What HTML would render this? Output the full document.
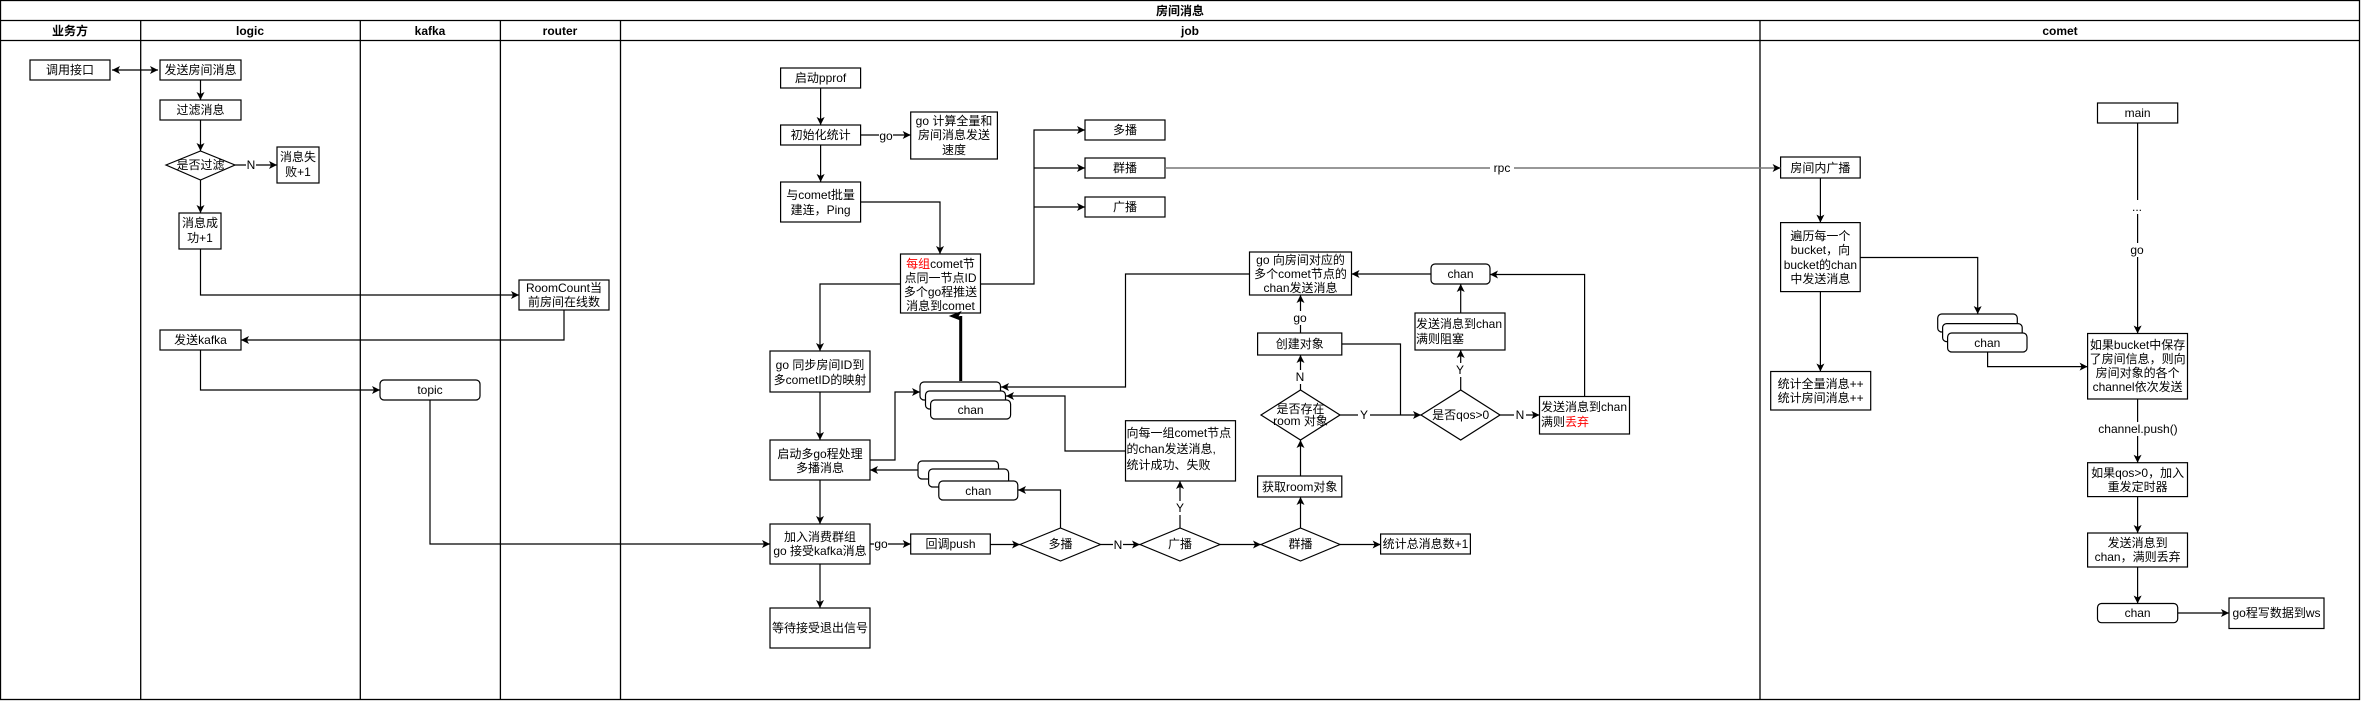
<!DOCTYPE html>
<html><head><meta charset="utf-8"><style>
html,body{margin:0;padding:0;background:#fff}
svg{display:block}
text{font-family:"Liberation Sans","Noto Sans CJK SC",sans-serif;font-size:12px;fill:#000}
.h{font-weight:bold}
</style></head><body>
<svg width="2361" height="701" viewBox="0 0 2361 701" xmlns="http://www.w3.org/2000/svg">
<defs>
<marker id="a" markerWidth="10" markerHeight="10" refX="8" refY="4" orient="auto" markerUnits="userSpaceOnUse">
<path d="M0,0 L8,4 L0,8 L2,4 z" fill="#000"/></marker>
<marker id="as" markerWidth="10" markerHeight="10" refX="0" refY="4" orient="auto" markerUnits="userSpaceOnUse">
<path d="M8,0 L0,4 L8,8 L6,4 z" fill="#000"/></marker>
<marker id="at" markerWidth="10" markerHeight="14" refX="5" refY="12" orient="auto-start-reverse" markerUnits="userSpaceOnUse">
<path d="M0,13 L5,0 L10,13 L5,10 z" fill="#000"/></marker>
</defs>
<g fill="none" stroke="#000" stroke-width="1.3">
<rect x="0.5" y="0.5" width="2359" height="699"/>
<line x1="0" y1="20.5" x2="2360" y2="20.5"/>
<line x1="0" y1="40.5" x2="2360" y2="40.5"/>
<line x1="140.7" y1="20" x2="140.7" y2="700"/>
<line x1="360.3" y1="20" x2="360.3" y2="700"/>
<line x1="500.4" y1="20" x2="500.4" y2="700"/>
<line x1="620.5" y1="20" x2="620.5" y2="700"/>
<line x1="1760" y1="20" x2="1760" y2="700"/>
</g>
<g text-anchor="middle" class="h">
<text x="1180" y="15" class="h">房间消息</text>
<text x="70" y="35" class="h">业务方</text>
<text x="250" y="35" class="h">logic</text>
<text x="430" y="35" class="h">kafka</text>
<text x="560" y="35" class="h">router</text>
<text x="1190" y="35" class="h">job</text>
<text x="2060" y="35" class="h">comet</text>
</g>
<!-- boxes -->
<g fill="#fff" stroke="#000" stroke-width="1.2">
<rect x="30" y="60" width="80" height="20"/>
<rect x="160" y="60" width="81" height="20"/>
<rect x="160" y="100" width="81" height="20"/>
<polygon points="166,165 200.5,151 235,165 200.5,180"/>
<rect x="277" y="147" width="42" height="36"/>
<rect x="179" y="213" width="42" height="36"/>
<rect x="519" y="280" width="90" height="30"/>
<rect x="160" y="330" width="81" height="20"/>
<rect x="380" y="380" width="100" height="20" rx="4"/>
<rect x="780.6" y="68" width="80" height="20"/>
<rect x="780.6" y="125" width="80" height="20"/>
<rect x="910.7" y="112" width="86.7" height="47"/>
<rect x="780.6" y="182" width="80" height="40"/>
<rect x="900.5" y="254" width="80" height="59"/>
<rect x="1085" y="120" width="80" height="20"/>
<rect x="1085" y="158" width="80" height="20"/>
<rect x="1085" y="197" width="80" height="20"/>
<rect x="770" y="351" width="100" height="41"/>
<rect x="920" y="382" width="80.5" height="18" rx="4"/>
<rect x="925.5" y="391" width="80" height="18" rx="4"/>
<rect x="930.6" y="400" width="80" height="19" rx="4"/>
<rect x="770" y="440" width="100" height="40"/>
<rect x="918" y="461" width="80.5" height="18" rx="4"/>
<rect x="928.6" y="469" width="80" height="18" rx="4"/>
<rect x="938.8" y="481" width="79" height="19" rx="4"/>
<rect x="770" y="524" width="100" height="40"/>
<rect x="770" y="608" width="100" height="40"/>
<rect x="910.7" y="534" width="79.6" height="20"/>
<polygon points="1020,544.5 1060.5,528 1100.5,544.5 1060.5,561"/>
<polygon points="1140,544.5 1180,528 1220,544.5 1180,561"/>
<polygon points="1261,544.5 1300.5,528 1340,544.5 1300.5,561"/>
<rect x="1380.6" y="534" width="89.8" height="20"/>
<rect x="1125.5" y="420.7" width="110" height="60.3"/>
<rect x="1257.6" y="476" width="84.2" height="21"/>
<polygon points="1261,415 1300.5,390 1340,415 1300.5,440"/>
<polygon points="1421,415 1460.7,390 1500,415 1460.7,440"/>
<rect x="1257.6" y="333" width="84.2" height="22"/>
<rect x="1249.5" y="252" width="102" height="43"/>
<rect x="1431" y="264" width="59" height="20" rx="4"/>
<rect x="1415" y="313" width="90" height="37"/>
<rect x="1539.5" y="396.5" width="90" height="37.5"/>
<rect x="1780.6" y="157" width="79.6" height="21"/>
<rect x="1780.6" y="222.6" width="79.6" height="69"/>
<rect x="1770.7" y="371.5" width="100" height="38.5"/>
<rect x="1937.7" y="314" width="79.6" height="18" rx="4"/>
<rect x="1942.6" y="323.6" width="79.6" height="18" rx="4"/>
<rect x="1947.6" y="333" width="79.4" height="19" rx="4"/>
<rect x="2097.5" y="103" width="80.2" height="20"/>
<rect x="2087.6" y="333.5" width="99.9" height="65.5"/>
<rect x="2087.6" y="462.7" width="99.9" height="33.9"/>
<rect x="2087.6" y="533" width="99.9" height="34"/>
<rect x="2097.5" y="603.5" width="80.2" height="19.2" rx="4"/>
<rect x="2229" y="598" width="95" height="30.5"/>
</g>
<!-- connectors -->
<g fill="none" stroke="#000" stroke-width="1.2" marker-end="url(#a)">
<path d="M112,70 H158" marker-start="url(#as)"/>
<path d="M200.5,80 V100"/>
<path d="M200.5,120 V151"/>
<path d="M235,165 H277"/>
<path d="M200.5,180 V213"/>
<path d="M200.5,249 V295 H519"/>
<path d="M564,310 V340 H241"/>
<path d="M200.5,350 V390 H380"/>
<path d="M430,400 V544 H770"/>
<path d="M820.6,88 V125"/>
<path d="M860.6,135 H910.7"/>
<path d="M820.6,145 V182"/>
<path d="M860.6,202 H940 V254"/>
<path d="M980.5,284 H1034 V130 H1085"/>
<path d="M1034,168 H1085"/>
<path d="M1034,207 H1085"/>
<path d="M1165,168 H1780.6" stroke="#777" stroke-width="1.5"/>
<path d="M900.5,284 H820 V351"/>
<path d="M820,392 V440"/>
<path d="M870,460 H895 V392 H920"/>
<path d="M918,470 H870"/>
<path d="M820,480 V524"/>
<path d="M820,564 V608"/>
<path d="M870,544 H910.7"/>
<path d="M990.3,544.5 H1020"/>
<path d="M1100.5,544.5 H1140"/>
<path d="M1060.5,528 V490 H1018"/>
<path d="M1180,528 V481"/>
<path d="M1125.5,451 H1065 V396 H1006"/>
<path d="M1220,544.5 H1261"/>
<path d="M1340,544.5 H1380.6"/>
<path d="M1300.5,528 V497"/>
<path d="M1300.5,476 V440"/>
<path d="M1300.5,390 V355"/>
<path d="M1300.5,333 V295"/>
<path d="M1249.5,274 H1125.5 V387 H1001"/>
<path d="M1340,415 H1421"/>
<path d="M1460.7,390 V350"/>
<path d="M1460.7,313 V284"/>
<path d="M1431,274 H1351.5"/>
<path d="M1500,415 H1539.5"/>
<path d="M1584.6,396.5 V274.5 H1490"/>
<path d="M1820.4,178 V222.6"/>
<path d="M1820.4,291.6 V371.5"/>
<path d="M1860.2,257.5 H1977.7 V314"/>
<path d="M1987.6,352 V366.6 H2087.6"/>
<path d="M2137.6,123 V333.5"/>
<path d="M2137.6,399 V462.7"/>
<path d="M2137.6,496.6 V533"/>
<path d="M2137.6,567 V603.5"/>
<path d="M2177.7,613 H2229"/>
</g>
<path d="M1341.8,344 H1400.5 V415" fill="none" stroke="#000" stroke-width="1.2"/>
<path d="M960.7,381 V316" fill="none" stroke="#000" stroke-width="3" marker-end="url(#at)"/>
<!-- edge labels with white bg -->
<g fill="#fff">
<rect x="246" y="158" width="10" height="13"/>
<rect x="879" y="129" width="14" height="14"/>
<rect x="1490" y="161" width="24" height="14"/>
<rect x="874" y="537" width="14" height="14"/>
<rect x="1113" y="537" width="10" height="14"/>
<rect x="1174" y="501" width="12" height="14"/>
<rect x="1294" y="370" width="12" height="14"/>
<rect x="1293" y="311" width="14" height="14"/>
<rect x="1358" y="408" width="12" height="14"/>
<rect x="1454" y="363" width="12" height="14"/>
<rect x="1514" y="408" width="12" height="14"/>
<rect x="2130" y="200" width="14" height="14"/>
<rect x="2128" y="243" width="18" height="14"/>
<rect x="2100" y="422" width="76" height="14"/>
</g>
<g text-anchor="middle">
<text x="251" y="169">N</text>
<text x="886" y="140">go</text>
<text x="1502" y="172">rpc</text>
<text x="881" y="548">go</text>
<text x="1118" y="549">N</text>
<text x="1180" y="512">Y</text>
<text x="1300" y="381">N</text>
<text x="1300" y="322">go</text>
<text x="1364" y="419">Y</text>
<text x="1460" y="374">Y</text>
<text x="1520" y="419">N</text>
<text x="2137" y="211">...</text>
<text x="2137" y="254">go</text>
<text x="2138" y="433">channel.push()</text>
</g>
<!-- node text -->
<g text-anchor="middle">
<text x="70" y="74">调用接口</text>
<text x="200.5" y="74">发送房间消息</text>
<text x="200.5" y="114">过滤消息</text>
<text x="200.5" y="169" font-size="11">是否过滤</text>
<text x="298" y="161">消息失</text><text x="298" y="176">败+1</text>
<text x="200" y="227">消息成</text><text x="200" y="242">功+1</text>
<text x="564" y="292">RoomCount当</text><text x="564" y="306">前房间在线数</text>
<text x="200.5" y="344">发送kafka</text>
<text x="430" y="394" font-size="10">topic</text>
<text x="820.6" y="82">启动pprof</text>
<text x="820.6" y="139">初始化统计</text>
<text x="954" y="125">go 计算全量和</text><text x="954" y="139">房间消息发送</text><text x="954" y="154">速度</text>
<text x="820.6" y="199">与comet批量</text><text x="820.6" y="214">建连，Ping</text>
<text x="940.5" y="268"><tspan fill="#ff0000">每组</tspan>comet节</text>
<text x="940.5" y="282">点同一节点ID</text>
<text x="940.5" y="296">多个go程推送</text>
<text x="940.5" y="310">消息到comet</text>
<text x="1125" y="134">多播</text>
<text x="1125" y="172">群播</text>
<text x="1125" y="211">广播</text>
<text x="820" y="369">go 同步房间ID到</text><text x="820" y="384">多cometID的映射</text>
<text x="970.6" y="414" font-size="10">chan</text>
<text x="820" y="458">启动多go程处理</text><text x="820" y="472">多播消息</text>
<text x="978.3" y="495" font-size="10">chan</text>
<text x="820" y="541">加入消费群组</text><text x="820" y="555">go 接受kafka消息</text>
<text x="820" y="632">等待接受退出信号</text>
<text x="950.5" y="548">回调push</text>
<text x="1060.5" y="548" font-size="11">多播</text>
<text x="1180" y="548" font-size="11">广播</text>
<text x="1300.5" y="548" font-size="11">群播</text>
<text x="1425.5" y="548">统计总消息数+1</text>
<text x="1299.7" y="491">获取room对象</text>
<text x="1300.5" y="413" font-size="10">是否存在</text><text x="1300.5" y="425" font-size="10">room 对象</text>
<text x="1460.7" y="419" font-size="10">是否qos&gt;0</text>
<text x="1299.7" y="348">创建对象</text>
<text x="1300.5" y="264">go 向房间对应的</text><text x="1300.5" y="278">多个comet节点的</text><text x="1300.5" y="292">chan发送消息</text>
<text x="1460.5" y="278" font-size="10">chan</text>
<text x="1820.4" y="172">房间内广播</text>
<text x="1820.4" y="240">遍历每一个</text><text x="1820.4" y="254">bucket，向</text><text x="1820.4" y="269">bucket的chan</text><text x="1820.4" y="283">中发送消息</text>
<text x="1820.7" y="388">统计全量消息++</text><text x="1820.7" y="402">统计房间消息++</text>
<text x="1987.3" y="347" font-size="10">chan</text>
<text x="2137.6" y="117">main</text>
<text x="2137.6" y="349">如果bucket中保存</text><text x="2137.6" y="363">了房间信息，则向</text><text x="2137.6" y="377">房间对象的各个</text><text x="2137.6" y="391">channel依次发送</text>
<text x="2137.6" y="477">如果qos&gt;0，加入</text><text x="2137.6" y="491">重发定时器</text>
<text x="2137.6" y="547">发送消息到</text><text x="2137.6" y="561">chan，满则丢弃</text>
<text x="2137.6" y="617" font-size="10">chan</text>
<text x="2276.5" y="617">go程写数据到ws</text>
</g>
<g text-anchor="start">
<text x="1126.5" y="437">向每一组comet节点</text>
<text x="1126.5" y="453">的chan发送消息,</text>
<text x="1126.5" y="469">统计成功、失败</text>
<text x="1416" y="328">发送消息到chan</text><text x="1416" y="343">满则阻塞</text>
<text x="1541" y="411">发送消息到chan</text><text x="1541" y="426">满则<tspan fill="#ff0000">丢弃</tspan></text>
</g>
</svg>
</body></html>
